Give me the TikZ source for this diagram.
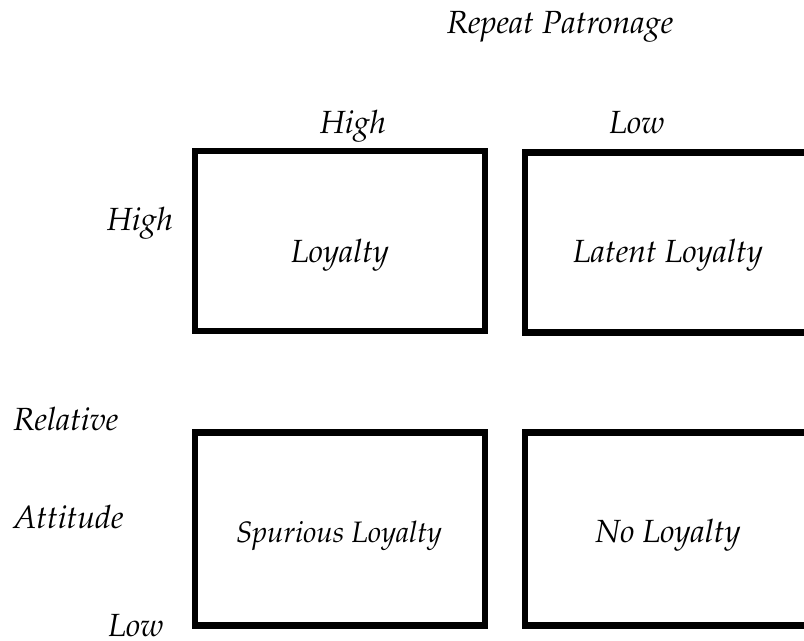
\documentclass[tikz,border=0pt]{standalone}
\usepackage[T1]{fontenc}
\usepackage{mathpazo}
\tikzset{
  cell/.style={draw, line width=4.6pt, minimum width=7.25cm, inner sep=0pt},
  txt/.style={font=\fontsize{22.8}{27}\selectfont\itshape, anchor=base, inner sep=0pt},
}
\begin{document}
\begin{tikzpicture}[x=0.025cm, y=-0.025cm]
\useasboundingbox (0,0) rectangle (804,640);
%\draw[style=help lines, step=40] (0,0) grid (804,640);

% column heading
\node[txt] (patronage) at (560,33) {Repeat Patronage};
\node[txt] (colhigh) at (353,133) {High};
\node[txt] (collow) at (637,133) {Low};

% top row
\node[cell, minimum height=4.5cm] (loyal) at (340,241) {};
	\node[txt] (loyaltxt) at (340,262) {Loyalty};
\node[cell, minimum height=4.5cm] (latent) at (670,242.5) {};
	\node[txt] (latenttxt) at (668,262) {Latent Loyalty};

% bottom row
\node[cell, minimum height=4.83cm] (spurious) at (340,529) {};
	\node[txt, font=\fontsize{21}{25}\selectfont\itshape] (spurioustxt) at (339,542) {Spurious Loyalty};
\node[cell, minimum height=4.83cm] (noloyal) at (670,529) {};
	\node[txt] (noloyaltxt) at (668,542) {No Loyalty};

% row heading
\node[txt] (rowhigh) at (140,230) {High};
\node[txt, anchor=base west] (relative) at (13,430) {Relative};
\node[txt, anchor=base west] (attitude) at (13,528) {Attitude};
\node[txt] (rowlow) at (136,636) {Low};
\end{tikzpicture}
\end{document}
